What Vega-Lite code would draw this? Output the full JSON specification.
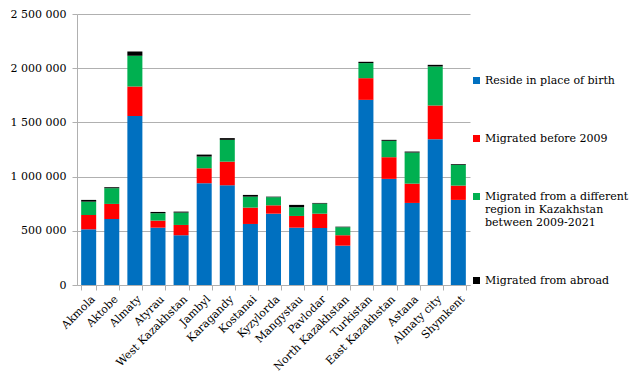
{
  "$schema": "https://vega.github.io/schema/vega-lite/v6.json",
  "width": 393,
  "height": 271,
  "autosize": "none",
  "padding": {"left": 77, "top": 14, "right": 171, "bottom": 89},
  "background": "white",
  "config": {
    "view": {"stroke": null},
    "font": "DejaVu Serif"
  },
  "datasets": {
    "raw": [
      {"region": "Akmola", "b": 514000, "r": 132000, "g": 123000, "k": 16000},
      {"region": "Aktobe", "b": 609000, "r": 139000, "g": 145000, "k": 9000},
      {"region": "Almaty", "b": 1560000, "r": 271000, "g": 284000, "k": 39000},
      {"region": "Atyrau", "b": 529000, "r": 65000, "g": 68000, "k": 12000},
      {"region": "West Kazakhstan", "b": 459000, "r": 95000, "g": 114000, "k": 9000},
      {"region": "Jambyl", "b": 939000, "r": 138000, "g": 108000, "k": 18000},
      {"region": "Karagandy", "b": 920000, "r": 218000, "g": 201000, "k": 16000},
      {"region": "Kostanai", "b": 563000, "r": 151000, "g": 101000, "k": 16000},
      {"region": "Kyzylorda", "b": 658000, "r": 77000, "g": 75000, "k": 5000},
      {"region": "Mangystau", "b": 529000, "r": 108000, "g": 80000, "k": 22000},
      {"region": "Pavlodar", "b": 526000, "r": 132000, "g": 93000, "k": 6000},
      {"region": "North Kazakhstan", "b": 363000, "r": 96000, "g": 74000, "k": 5000},
      {"region": "Turkistan", "b": 1708000, "r": 200000, "g": 139000, "k": 12000},
      {"region": "East Kazakhstan", "b": 979000, "r": 200000, "g": 151000, "k": 9000},
      {"region": "Astana", "b": 757000, "r": 178000, "g": 287000, "k": 9000},
      {"region": "Almaty city", "b": 1345000, "r": 311000, "g": 360000, "k": 15000},
      {"region": "Shymkent", "b": 785000, "r": 132000, "g": 191000, "k": 7000}
    ]
  },
  "data": {"name": "raw"},
  "transform": [
    {"fold": ["b", "r", "g", "k"], "as": ["key", "value"]},
    {"lookup": "key", "from": {"data": {"values": [
      {"key": "b", "category": "Reside in place of birth", "ord": 1},
      {"key": "r", "category": "Migrated before 2009", "ord": 2},
      {"key": "g", "category": "Migrated from a different region in Kazakhstan between 2009-2021", "ord": 3},
      {"key": "k", "category": "Migrated from abroad", "ord": 4}
    ]}, "key": "key", "fields": ["category", "ord"]}}
  ],
  "mark": {"type": "bar"},
  "encoding": {
    "x": {
      "field": "region",
      "type": "nominal",
      "sort": null,
      "scale": {"paddingInner": 0.35, "paddingOuter": 0.18},
      "axis": {
        "title": null,
        "labelAngle": -45,
        "labelFont": "DejaVu Serif",
        "labelFontSize": 11,
        "labelColor": "black",
        "labelPadding": 3,
        "domainColor": "#b0b0b0",
        "tickColor": "#b0b0b0",
        "tickBand": "extent",
        "tickSize": 5
      }
    },
    "y": {
      "field": "value",
      "type": "quantitative",
      "stack": "zero",
      "scale": {"domain": [0, 2500000]},
      "axis": {
        "title": null,
        "values": [0, 500000, 1000000, 1500000, 2000000, 2500000],
        "labelExpr": "replace(replace(format(datum.value, ','), ',', ' '), ',', ' ')",
        "labelFont": "DejaVu Serif",
        "labelFontSize": 11,
        "labelColor": "black",
        "labelPadding": 6,
        "domainColor": "#b0b0b0",
        "tickColor": "#b0b0b0",
        "tickSize": 5,
        "gridColor": "#b0b0b0",
        "gridWidth": 1
      }
    },
    "color": {
      "field": "category",
      "type": "nominal",
      "scale": {
        "domain": ["Reside in place of birth", "Migrated before 2009", "Migrated from a different region in Kazakhstan between 2009-2021", "Migrated from abroad"],
        "range": ["#0070C0", "#FF0000", "#00B050", "#000000"]
      },
      "legend": {
        "title": null,
        "orient": "none",
        "legendX": 394,
        "legendY": 61,
        "symbolType": "square",
        "symbolSize": 49,
        "symbolStrokeWidth": 0,
        "labelFont": "DejaVu Serif",
        "labelFontSize": 11,
        "labelColor": "black",
        "labelOffset": 3,
        "labelLimit": 200,
        "rowPadding": 46,
        "labelExpr": "indexof(datum.label, 'different') >= 0 ? ['Migrated from a different', 'region in Kazakhstan', 'between 2009-2021'] : datum.label"
      }
    },
    "order": {"field": "ord", "type": "quantitative"}
  }
}
